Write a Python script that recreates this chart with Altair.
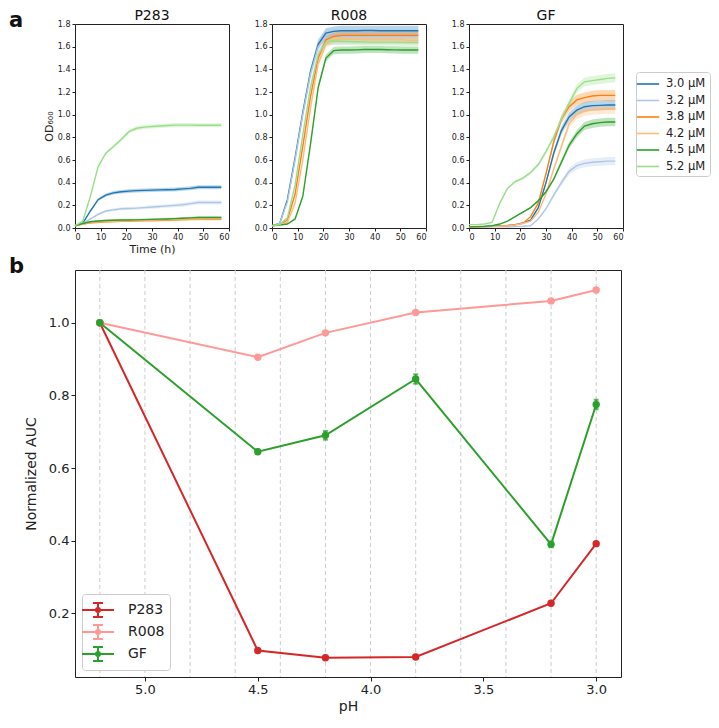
import altair as alt
import pandas as pd

FONT = "DejaVu Sans"

# ---------------- panel a: growth curves ----------------
TIME_H = [0, 3, 6, 9, 12, 15, 18, 21, 24, 27, 30, 33, 36, 39, 42, 45, 48, 51, 54, 57]
CONC = ["3.0 μM", "3.2 μM", "3.8 μM", "4.2 μM", "4.5 μM", "5.2 μM"]
CONC_COLORS = ["#1f77b4", "#aec7e8", "#ff7f0e", "#ffbb78", "#2ca02c", "#98df8a"]

P283_OD = [
    [0.02, 0.04, 0.15, 0.25, 0.29, 0.31, 0.32, 0.325, 0.33, 0.332, 0.334, 0.336, 0.338, 0.34, 0.345, 0.35, 0.36, 0.36, 0.36, 0.36],
    [0.02, 0.04, 0.08, 0.12, 0.15, 0.16, 0.17, 0.172, 0.175, 0.18, 0.185, 0.19, 0.195, 0.2, 0.205, 0.215, 0.225, 0.225, 0.225, 0.225],
    [0.02, 0.035, 0.045, 0.05, 0.055, 0.058, 0.06, 0.062, 0.064, 0.065, 0.066, 0.068, 0.07, 0.072, 0.074, 0.076, 0.078, 0.078, 0.078, 0.078],
    [0.02, 0.035, 0.048, 0.054, 0.058, 0.06, 0.062, 0.064, 0.066, 0.068, 0.07, 0.072, 0.074, 0.076, 0.078, 0.08, 0.082, 0.083, 0.083, 0.083],
    [0.02, 0.04, 0.055, 0.062, 0.066, 0.068, 0.07, 0.071, 0.072, 0.074, 0.076, 0.078, 0.08, 0.083, 0.086, 0.089, 0.092, 0.093, 0.093, 0.093],
    [0.02, 0.06, 0.28, 0.54, 0.66, 0.72, 0.78, 0.85, 0.88, 0.89, 0.895, 0.9, 0.905, 0.908, 0.908, 0.908, 0.907, 0.907, 0.906, 0.906],
]
R008_OD = [
    [0.02, 0.04, 0.25, 0.62, 1.02, 1.38, 1.62, 1.72, 1.735, 1.74, 1.74, 1.74, 1.742, 1.742, 1.74, 1.74, 1.74, 1.74, 1.74, 1.74],
    [0.02, 0.04, 0.23, 0.6, 1.0, 1.36, 1.6, 1.68, 1.69, 1.69, 1.69, 1.69, 1.69, 1.69, 1.69, 1.69, 1.69, 1.69, 1.69, 1.69],
    [0.02, 0.03, 0.07, 0.3, 0.72, 1.16, 1.5, 1.66, 1.69, 1.7, 1.7, 1.7, 1.7, 1.7, 1.7, 1.7, 1.7, 1.7, 1.7, 1.7],
    [0.02, 0.03, 0.05, 0.22, 0.6, 1.06, 1.45, 1.62, 1.66, 1.665, 1.665, 1.665, 1.66, 1.66, 1.66, 1.66, 1.66, 1.66, 1.655, 1.655],
    [0.02, 0.025, 0.035, 0.08, 0.28, 0.74, 1.24, 1.5, 1.565, 1.57, 1.57, 1.572, 1.575, 1.575, 1.575, 1.573, 1.572, 1.57, 1.57, 1.57],
    [0.02, 0.03, 0.09, 0.38, 0.82, 1.24, 1.53, 1.64, 1.65, 1.648, 1.645, 1.643, 1.642, 1.64, 1.64, 1.64, 1.64, 1.638, 1.638, 1.638],
]
GF_OD = [
    [0.01, 0.01, 0.012, 0.015, 0.018, 0.022, 0.03, 0.045, 0.07, 0.18, 0.4, 0.66, 0.86, 0.98, 1.04, 1.07, 1.08, 1.082, 1.085, 1.085],
    [0.01, 0.01, 0.01, 0.01, 0.01, 0.01, 0.012, 0.015, 0.02, 0.08, 0.17, 0.29, 0.4, 0.5, 0.55, 0.57, 0.58, 0.585, 0.59, 0.59],
    [0.01, 0.01, 0.012, 0.014, 0.016, 0.02, 0.028, 0.04, 0.1, 0.22, 0.48, 0.76, 0.96, 1.07, 1.13, 1.15, 1.165, 1.17, 1.17, 1.17],
    [0.01, 0.01, 0.012, 0.014, 0.016, 0.02, 0.028, 0.04, 0.06, 0.14, 0.3, 0.52, 0.72, 0.92, 1.0, 1.03, 1.04, 1.045, 1.05, 1.05],
    [0.01, 0.012, 0.015, 0.02, 0.035, 0.06, 0.1, 0.14, 0.18, 0.24, 0.32, 0.43, 0.58, 0.73, 0.83, 0.9, 0.92, 0.93, 0.935, 0.935],
    [0.03, 0.03, 0.035, 0.05, 0.22, 0.35, 0.41, 0.44, 0.49, 0.56, 0.675, 0.8, 0.96, 1.1, 1.23, 1.29, 1.3, 1.31, 1.32, 1.325],
]
# relative spread of replicate wells (half width of shaded band)
P283_CV = [0.05, 0.08, 0.15, 0.12, 0.12, 0.02]
R008_CV = [0.025, 0.04, 0.02, 0.02, 0.02, 0.02]
GF_CV = [0.04, 0.06, 0.04, 0.04, 0.04, 0.03]

# ---------------- panel b: normalized AUC ----------------
PH = [5.2, 4.5, 4.2, 3.8, 3.2, 3.0]
STRAINS = ["P283", "R008", "GF"]
STRAIN_COLORS = ["#d62728", "#ff9896", "#2ca02c"]
AUC = {
    "P283": [1.0, 0.098, 0.078, 0.08, 0.228, 0.392],
    "R008": [1.0, 0.905, 0.972, 1.028, 1.06, 1.09],
    "GF": [1.0, 0.645, 0.69, 0.845, 0.39, 0.775],
}
AUC_ERR = {
    "P283": [0.002, 0.005, 0.004, 0.005, 0.005, 0.004],
    "R008": [0.002, 0.004, 0.004, 0.003, 0.003, 0.004],
    "GF": [0.002, 0.006, 0.012, 0.013, 0.008, 0.013],
}
GRID_PH = [5.2, 5.0, 4.8, 4.6, 4.4, 4.2, 4.0, 3.8, 3.6, 3.4, 3.2, 3.0]

PANEL_W = 154
PANEL_H = 204


def text_label(txt, x, y, size, weight="normal", align="left", baseline="alphabetic"):
    return alt.Chart(pd.DataFrame({"t": [txt]})).mark_text(
        fontSize=size, fontWeight=weight, font=FONT, align=align, baseline=baseline,
        color="#111111",
    ).encode(text="t:N", x=alt.value(x), y=alt.value(y))


def growth_panel(name, od, cv, first, label=None):
    rows = []
    for c, vals, s in zip(CONC, od, cv):
        for t, v in zip(TIME_H, vals):
            rows.append({"time": t, "od": v, "lo": v * (1 - s), "hi": v * (1 + s), "conc": c})
    df = pd.DataFrame(rows)
    color = alt.Color(
        "conc:N",
        scale=alt.Scale(domain=CONC, range=CONC_COLORS),
        legend=alt.Legend(
            title=None, orient="none", legendX=561, legendY=48,
            symbolType="M-1.6,0H1.6", symbolSize=196, symbolStrokeWidth=1.6,
            symbolOpacity=1, labelOffset=10, labelFontSize=11.5, labelFont=FONT,
            rowPadding=2.5, strokeColor="#cccccc", padding=4, cornerRadius=3,
            fillColor="white",
        ),
    )
    x = alt.X(
        "time:Q", scale=alt.Scale(domain=[0, 60], nice=False),
        axis=alt.Axis(values=list(range(0, 61, 10)), title="Time (h)" if first else None,
                      grid=False, domain=False, tickSize=3, labelFontSize=8,
                      titleFontSize=11, titleFontWeight="normal", titlePadding=2),
    )
    yscale = alt.Scale(domain=[0, 1.8], nice=False)
    yaxis = alt.Axis(values=[i / 10 for i in range(0, 19, 2)], format=".1f",
                     title="OD₆₀₀" if first else None, grid=False, domain=False,
                     tickSize=3, labelFontSize=8, titleFontSize=11,
                     titleFontWeight="normal", titlePadding=3)
    band = alt.Chart(df).mark_area(opacity=0.3).encode(
        x=x, y=alt.Y("lo:Q", scale=yscale, axis=yaxis), y2="hi:Q", color=color
    )
    line = alt.Chart(df).mark_line(strokeWidth=1.4).encode(
        x=x, y=alt.Y("od:Q", scale=yscale, axis=yaxis), color=color
    )
    layers = [band, line, text_label(name, PANEL_W / 2, -4, 14, align="center")]
    if label:
        layers.append(text_label(label, -66, 3, 21, weight="bold"))
    return alt.layer(*layers).properties(width=PANEL_W, height=PANEL_H)


top = alt.hconcat(
    growth_panel("P283", P283_OD, P283_CV, True, "a"),
    growth_panel("R008", R008_OD, R008_CV, False),
    growth_panel("GF", GF_OD, GF_CV, False),
    spacing=23,
)

auc_rows = []
for s in STRAINS:
    for p, v, e in zip(PH, AUC[s], AUC_ERR[s]):
        auc_rows.append({"ph": p, "auc": v, "lo": v - e, "hi": v + e, "strain": s})
auc_df = pd.DataFrame(auc_rows)

LEG_PATH = ("M-1.6,0H1.6M0,-0.7V0.7M-0.5,-0.7H0.5M-0.5,0.7H0.5"
            "M-0.2,0A0.2,0.2,0,1,0,0.2,0A0.2,0.2,0,1,0,-0.2,0Z")
scolor = alt.Color(
    "strain:N",
    scale=alt.Scale(domain=STRAINS, range=STRAIN_COLORS),
    legend=alt.Legend(
        title=None, orient="bottom-left", offset=7, symbolType=LEG_PATH,
        symbolSize=400, symbolStrokeWidth=2, symbolOpacity=1, labelOffset=19,
        labelFontSize=14, labelFont=FONT, rowPadding=0, strokeColor="#cccccc",
        padding=5, cornerRadius=3, fillColor="white",
    ),
)
px = alt.X(
    "ph:Q", scale=alt.Scale(domain=[5.31, 2.89], nice=False, zero=False),
    axis=alt.Axis(values=[5.0, 4.5, 4.0, 3.5, 3.0], format=".1f", title="pH",
                  grid=False, domain=False, tickSize=4, labelFontSize=13,
                  titleFontSize=14, titleFontWeight="normal", titlePadding=3),
)
pyscale = alt.Scale(domain=[0.025, 1.145], nice=False, zero=False)
pyaxis = alt.Axis(values=[0.2, 0.4, 0.6, 0.8, 1.0], format=".1f", title="Normalized AUC",
                  grid=False, domain=False, tickSize=4, labelFontSize=13,
                  titleFontSize=14, titleFontWeight="normal", titlePadding=10)

grid = alt.Chart(pd.DataFrame({"ph": GRID_PH})).mark_rule(
    color="#cccccc", strokeDash=[4, 3], strokeWidth=1
).encode(x=px)
aline = alt.Chart(auc_df).mark_line(strokeWidth=2).encode(
    x=px, y=alt.Y("auc:Q", scale=pyscale, axis=pyaxis), color=scolor
)
apts = alt.Chart(auc_df).mark_point(filled=True, size=55, opacity=1).encode(
    x=px, y=alt.Y("auc:Q", scale=pyscale, axis=pyaxis), color=scolor
)
aerr = alt.Chart(auc_df).mark_errorbar(ticks=True, thickness=2).encode(
    x=px, y=alt.Y("lo:Q", scale=pyscale, axis=pyaxis, title="Normalized AUC"), y2="hi:Q",
    color=scolor,
)

bottom = alt.layer(
    grid, aline, aerr, apts, text_label("b", -66, 3, 21, weight="bold")
).properties(width=546, height=407)

chart = (
    alt.vconcat(top, bottom, spacing=0)
    .resolve_scale(color="independent")
    .properties(padding={"left": 0, "top": 0, "right": 0, "bottom": 0})
    .configure_view(stroke="#222222", strokeWidth=1)
    .configure_axis(labelFont=FONT, titleFont=FONT, labelColor="#222222",
                    titleColor="#222222", tickColor="#222222")
    .configure_legend(labelColor="#222222")
)

chart.save("out.html", embed_options={"renderer": "svg", "actions": False})
